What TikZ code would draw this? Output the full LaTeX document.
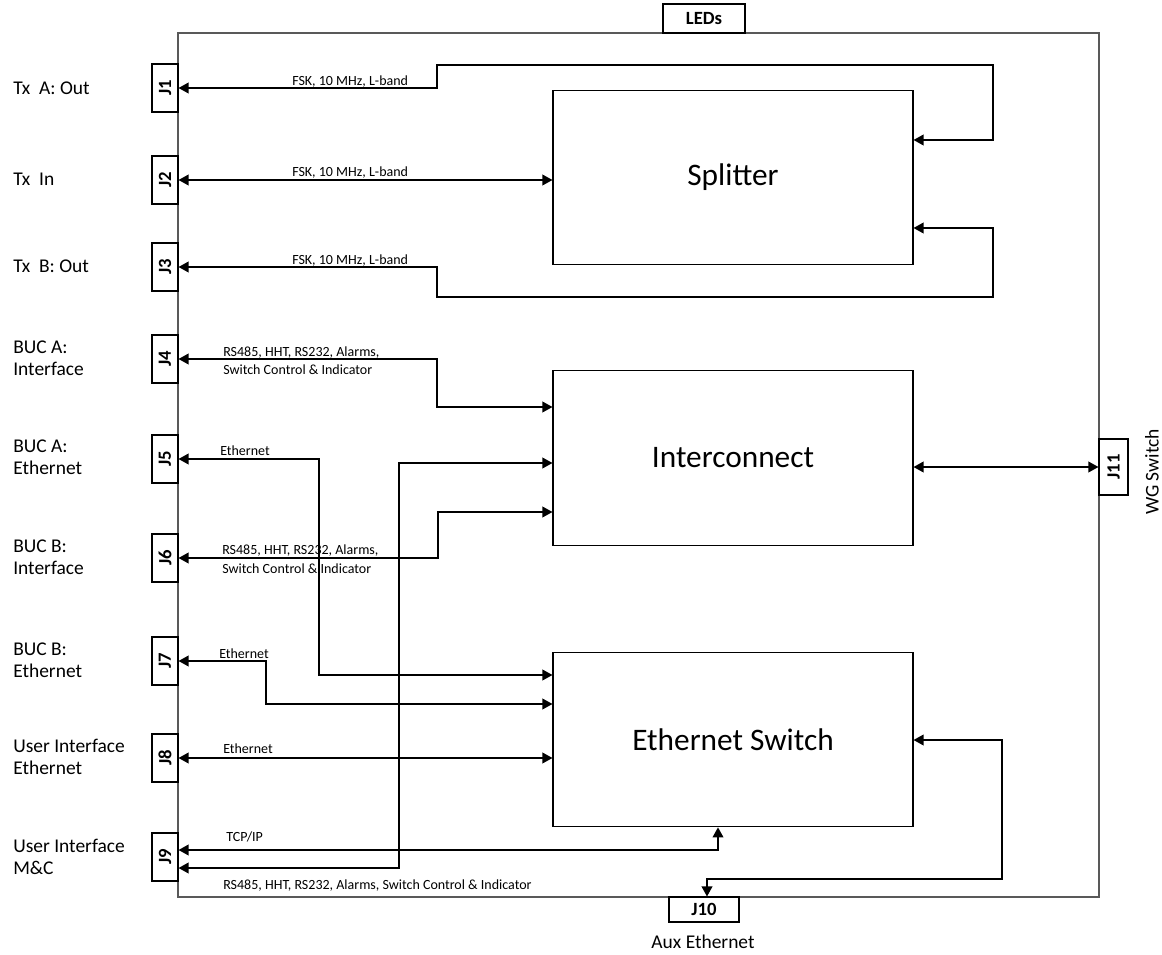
\documentclass[tikz,border=0pt]{standalone}
\usepackage{fontspec}
\setmainfont{Carlito}
\usetikzlibrary{arrows.meta,calc}
\begin{document}
\begin{tikzpicture}[x=0.75pt,y=-0.75pt,
  conn/.style={line width=1.1pt, {Triangle[length=7.5pt,width=8pt]}-{Triangle[length=7.5pt,width=8pt]}},
  jbox/.style={draw, line width=0.8pt, fill=white, inner sep=0pt, minimum width=19.5pt, minimum height=36pt, font=\fontsize{14}{16}\selectfont\bfseries},
  hbox/.style={draw, line width=0.8pt, fill=white, inner sep=0pt, font=\fontsize{14}{16}\selectfont\bfseries},
  block/.style={draw, line width=0.8pt, minimum width=270pt, minimum height=131pt, font=\fontsize{23.5}{28}\selectfont},
  side/.style={anchor=west, align=left, inner sep=0pt, font=\fontsize{14.6}{16.5}\selectfont},
  sig/.style={anchor=base west, inner sep=0pt, font=\fontsize{10.5}{12}\selectfont},
]
\useasboundingbox (0,0) rectangle (1162,955);
% outer enclosure
\draw[line width=0.8pt, draw=black!65] (178,33) rectangle (1099,897);

% main blocks
\node[block] (Splitter) at (733,177.5) {Splitter};
\node[block] (Interconnect) at (733,458) {Interconnect};
\node[block] (Switch) at (733,739.5) {Ethernet Switch};

% connectors on the left
\node[jbox] (J1) at (165,88) {\rotatebox{90}{J1}};
\node[jbox] (J2) at (165,180) {\rotatebox{90}{J2}};
\node[jbox] (J3) at (165,267) {\rotatebox{90}{J3}};
\node[jbox] (J4) at (165,359) {\rotatebox{90}{J4}};
\node[jbox] (J5) at (165,459) {\rotatebox{90}{J5}};
\node[jbox] (J6) at (165,558) {\rotatebox{90}{J6}};
\node[jbox] (J7) at (165,661) {\rotatebox{90}{J7}};
\node[jbox] (J8) at (165,758) {\rotatebox{90}{J8}};
\node[jbox] (J9) at (165,857) {\rotatebox{90}{J9}};
\node[hbox, minimum width=21.75pt, minimum height=42pt] (J11) at (1113.5,467) {\rotatebox{90}{J11}};
\node[hbox, minimum width=52.5pt, minimum height=18.75pt] (J10) at (704,909.5) {J10};
\node[hbox, minimum width=61.5pt, minimum height=21.75pt] (LEDs) at (704,18.5) {LEDs};

% outside labels
\node[side] (l1) at (13,88) {Tx~~A: Out};
\node[side] (l2) at (13,179) {Tx~~In};
\node[side] (l3) at (13,266) {Tx~~B: Out};
\node[side] (l4) at (13,358) {BUC A:\\Interface};
\node[side] (l5) at (13,457) {BUC A:\\Ethernet};
\node[side] (l6) at (13,557) {BUC B:\\Interface};
\node[side] (l7) at (13,660) {BUC B:\\Ethernet};
\node[side] (l8) at (13,757) {User Interface\\Ethernet};
\node[side] (l9) at (13,857) {User Interface\\M\&C};
\node[font=\fontsize{14.6}{16}\selectfont] (aux) at (703,942) {Aux Ethernet};
\node[font=\fontsize{14.6}{16}\selectfont, rotate=90] (wg) at (1152,472) {WG Switch};

% waypoints
\coordinate (t1) at (437,65);
\coordinate (t2) at (993,140);
\coordinate (t3) at (437,297);
\coordinate (t4) at (993,228);
\coordinate (t5) at (437,407);
\coordinate (t6) at (319,675);
\coordinate (t7) at (438,512);
\coordinate (t8) at (266,704);
\coordinate (t9) at (718,850);
\coordinate (t10) at (399,463);
\coordinate (t11) at (1002,740);
\coordinate (t12) at (707,879);

% wiring
\draw[conn] (J1.east) -| (t1) -| (t2) -- (Splitter.east |- t2);
\draw[conn] (J2.east) -- (Splitter.west |- J2.east);
\draw[conn] (J3.east) -| (t3) -| (t4) -- (Splitter.east |- t4);
\draw[conn] (J4.east) -| (t5) -- (Interconnect.west |- t5);
\draw[conn] (J5.east) -| (t6) -- (Switch.west |- t6);
\draw[conn] (J6.east) -| (t7) -- (Interconnect.west |- t7);
\draw[conn] (J7.east) -| (t8) -- (Switch.west |- t8);
\draw[conn] (J8.east) -- (Switch.west |- J8.east);
\draw[conn] ($(J9.east)+(0,-7)$) -- (t9) -- (t9 |- Switch.south);
\draw[conn] ($(J9.east)+(0,11)$) -| (t10) -- (Interconnect.west |- t10);
\draw[conn] (Switch.east |- t11) -- (t11) |- (t12) -- (t12 |- J10.north);
\draw[conn] (Interconnect.east |- J11.west) -- (J11.west);

% signal labels
\node[sig] (s1) at (292,86) {FSK, 10 MHz, L-band};
\node[sig] (s2) at (292,177) {FSK, 10 MHz, L-band};
\node[sig] (s3) at (292,265) {FSK, 10 MHz, L-band};
\node[sig] (s4a) at (223,356) {RS485, HHT, RS232, Alarms,};
\node[sig] (s4b) at (223,374) {Switch Control \& Indicator};
\node[sig] (s5) at (220,455) {Ethernet};
\node[sig] (s6a) at (222,554) {RS485, HHT, RS232, Alarms,};
\node[sig] (s6b) at (222,573) {Switch Control \& Indicator};
\node[sig] (s7) at (219,658) {Ethernet};
\node[sig] (s8) at (223,753) {Ethernet};
\node[sig] (s9a) at (226,841) {TCP/IP};
\node[sig] (s9b) at (223,889) {RS485, HHT, RS232, Alarms, Switch Control \& Indicator};
\end{tikzpicture}
\end{document}
